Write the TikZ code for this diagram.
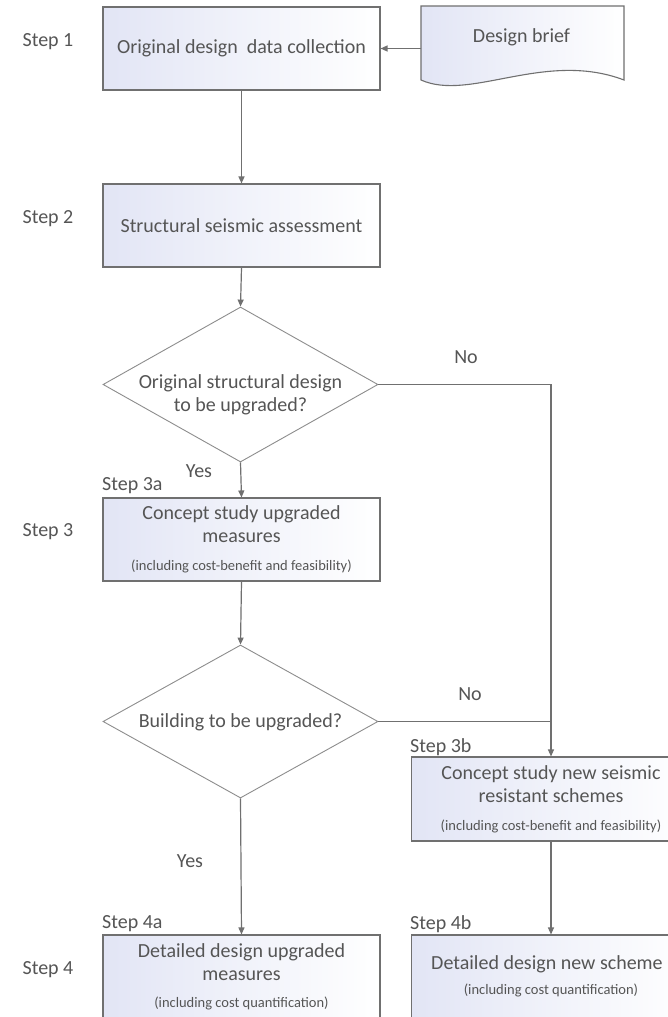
\documentclass[tikz,border=0pt]{standalone}
\usepackage{fontspec}
\setmainfont{Carlito}
\usetikzlibrary{arrows.meta,shapes.geometric}
\definecolor{linegray}{RGB}{112,112,112}
\definecolor{txtgray}{RGB}{85,85,85}
\definecolor{boxblue}{RGB}{226,229,245}
\begin{document}
\begin{tikzpicture}[x=1pt,y=-1pt,
  every node/.style={text=txtgray, font=\fontsize{20}{23}\selectfont, inner sep=0pt},
  procbox/.style={draw=linegray, line width=1.1pt, rectangle, minimum width=277pt,
    minimum height=83pt, left color=boxblue, right color=white, align=center},
  decision/.style={draw=linegray!80, line width=0.9pt, diamond, fill=white},
  arr/.style={draw=linegray, line width=1.2pt, -{Triangle[length=7pt,width=6pt]}},
  ln/.style={draw=linegray, line width=1.2pt},
  steplbl/.style={anchor=center},
  sublbl/.style={anchor=west}
]
\useasboundingbox (0,0) rectangle (668,1017);
\clip (0,0) rectangle (668,1017);
\fill[white] (0,0) rectangle (668,1017);

% step labels
\node[steplbl] (s1) at (48,42) {Step 1};
\node[steplbl] (s2) at (48,219) {Step 2};
\node[steplbl] (s3) at (48,532) {Step 3};
\node[steplbl] (s4) at (48,970) {Step 4};

% boxes
\node[procbox] (b1) at (241.5,48.5) {Original design\ \ data collection};
\node[procbox] (b2) at (241.5,225.5) {Structural seismic assessment};
\node[procbox] (b3a) at (241.5,539.5) {Concept study upgraded\\measures\\[5pt]{\fontsize{14.5}{17}\selectfont (including cost-benefit and feasibility)}};
\node[procbox, minimum width=279pt, minimum height=84pt] (b3b) at (551,799) {Concept study new seismic\\resistant schemes\\[5pt]{\fontsize{14.5}{17}\selectfont (including cost-benefit and feasibility)}};
\node[procbox] (b4a) at (241.5,976.5) {Detailed design upgraded\\measures\\[4pt]{\fontsize{14.5}{17}\selectfont (including cost quantification)}};
\node[procbox, minimum width=279pt] (b4b) at (551,976.5) {};
\node[anchor=west] (b4bt) at (431,964) {Detailed design new scheme};
\node[font=\fontsize{14.5}{17}\selectfont] (b4bs) at (551,990) {(including cost quantification)};

% design brief document
\draw[draw=linegray, line width=1.1pt, left color=boxblue, right color=white]
  (421,6) -- (624,6) -- (624,80)
  .. controls (545,50) and (470,102) .. (421,80) -- cycle;
\node (brief) at (521.5,37) {Design brief};
\coordinate (briefW) at (421,48.5);

% decisions
\node[decision, minimum width=275pt, minimum height=155pt] (d1) at (240.5,384.5) {};
\node[align=center] (d1t) at (240.5,395) {Original structural design\\to be upgraded?};
\node[decision, minimum width=275pt, minimum height=153pt] (d2) at (240.5,721.5) {};
\node (d2t) at (240.5,722) {Building to be upgraded?};

% sub labels
\node[sublbl] (s3a) at (102,486) {Step 3a};
\node[sublbl] (s3b) at (410,747) {Step 3b};
\node[sublbl] (s4a) at (102,924) {Step 4a};
\node[sublbl] (s4b) at (410,924) {Step 4b};

% yes / no
\node (no1) at (466,357) {No};
\node (yes1) at (199,471) {Yes};
\node (no2) at (470,694) {No};
\node (yes2) at (190,861) {Yes};

% connectors
\draw[arr] (briefW) -- (b1.east);
\draw[arr] (b1.south) -- (b2.north);
\draw[arr] (b2.south) -- (d1.north);
\draw[arr] (d1.south) -- (b3a.north);
\draw[arr] (d1.east) -| (b3b.north);
\draw[arr] (b3a.south) -- (d2.north);
\draw[ln] (d2.east) -- (d2.east -| b3b.north);
\draw[arr] (d2.south) -- (b4a.north);
\draw[arr] (b3b.south) -- (b4b.north);
\end{tikzpicture}
\end{document}
